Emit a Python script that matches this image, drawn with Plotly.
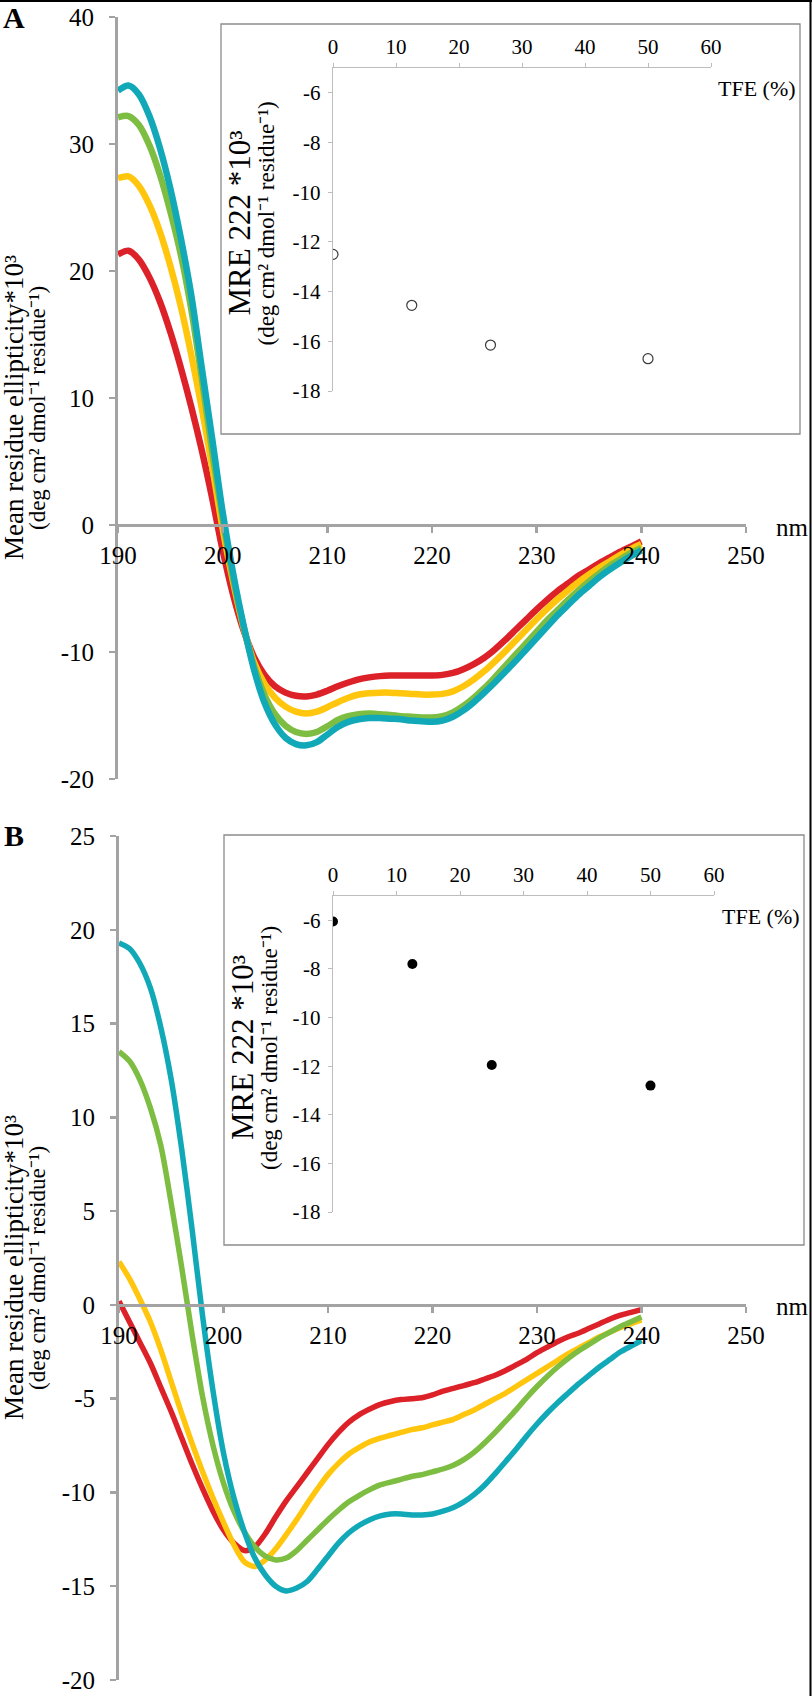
import plotly.graph_objects as go

W, H = 812, 1696

# ---------------- data ----------------
wavelength = list(range(190, 241))

a_red = [21.3, 21.6, 20.9, 19.5, 17.6, 15.2, 12.4, 9.3, 5.9, 2.1,
         -2.0, -5.5, -8.3, -10.4, -11.8, -12.7, -13.2, -13.45, -13.5, -13.35,
         -13.05, -12.7, -12.4, -12.15, -12.0, -11.9, -11.85, -11.85, -11.85, -11.85,
         -11.85, -11.8, -11.65, -11.35, -10.95, -10.45, -9.8, -9.05, -8.25, -7.45,
         -6.65, -5.9, -5.2, -4.6, -4.0, -3.5, -3.0, -2.55, -2.1, -1.7, -1.3]
a_yellow = [27.3, 27.45, 26.7, 25.2, 23.1, 20.4, 17.2, 13.4, 9.2, 4.6,
            -0.3, -4.5, -8.1, -10.8, -12.5, -13.6, -14.3, -14.7, -14.85, -14.7,
            -14.35, -13.95, -13.6, -13.35, -13.25, -13.2, -13.2, -13.25, -13.3, -13.35,
            -13.35, -13.3, -13.1, -12.7, -12.15, -11.5, -10.75, -9.95, -9.1, -8.25,
            -7.4, -6.6, -5.85, -5.15, -4.5, -3.9, -3.35, -2.85, -2.35, -1.9, -1.5]
a_green = [32.1, 32.2, 31.5, 29.9, 27.6, 24.7, 21.3, 17.0, 11.6, 5.8,
           0.5, -4.2, -8.0, -11.1, -13.4, -14.9, -15.8, -16.3, -16.45, -16.3,
           -15.85, -15.35, -15.05, -14.9, -14.85, -14.9, -14.95, -15.05, -15.1, -15.15,
           -15.15, -15.05, -14.75, -14.25, -13.6, -12.85, -12.0, -11.1, -10.2, -9.3,
           -8.4, -7.5, -6.7, -5.9, -5.15, -4.45, -3.8, -3.2, -2.7, -2.2, -1.8]
a_cyan = [34.2, 34.6, 33.9, 32.2, 29.7, 26.5, 22.6, 18.1, 12.4, 6.8,
          1.0, -3.8, -7.9, -11.4, -14.0, -15.7, -16.75, -17.25, -17.35, -17.1,
          -16.5, -15.9, -15.5, -15.3, -15.2, -15.2, -15.25, -15.3, -15.4, -15.45,
          -15.5, -15.4, -15.1, -14.6, -13.95, -13.2, -12.4, -11.55, -10.7, -9.8,
          -8.9, -8.0, -7.1, -6.3, -5.5, -4.8, -4.1, -3.5, -2.95, -2.45, -2.0]

b_red = [0.2, -0.9, -2.0, -3.1, -4.4, -5.7, -7.1, -8.5, -9.8, -11.0,
         -12.0, -12.7, -13.1, -12.9, -12.2, -11.3, -10.45, -9.7, -8.95, -8.2,
         -7.45, -6.8, -6.25, -5.85, -5.55, -5.3, -5.15, -5.05, -5.0, -4.95,
         -4.8, -4.6, -4.45, -4.3, -4.15, -3.95, -3.75, -3.5, -3.2, -2.9,
         -2.55, -2.25, -1.95, -1.7, -1.5, -1.25, -1.0, -0.75, -0.55, -0.4, -0.25]
b_yellow = [2.3, 1.4, 0.3, -0.9, -2.4, -4.1, -5.8, -7.4, -8.9, -10.3,
            -11.6, -12.8, -13.7, -13.95, -13.6, -13.0, -12.25, -11.45, -10.6, -9.8,
            -9.05, -8.45, -7.95, -7.6, -7.3, -7.1, -6.95, -6.8, -6.65, -6.55,
            -6.4, -6.25, -6.1, -5.85, -5.6, -5.3, -5.0, -4.7, -4.35, -4.0,
            -3.65, -3.3, -2.95, -2.6, -2.3, -2.0, -1.7, -1.45, -1.2, -1.0, -0.8]
b_green = [13.5, 13.0, 12.0, 10.5, 8.5, 5.4, 2.0, -1.6, -4.9, -7.5,
           -9.5, -11.0, -12.1, -12.9, -13.4, -13.6, -13.5, -13.1, -12.55, -12.0,
           -11.45, -10.95, -10.5, -10.15, -9.85, -9.6, -9.45, -9.3, -9.15, -9.05,
           -8.9, -8.75, -8.55, -8.25, -7.85, -7.35, -6.8, -6.2, -5.6, -4.95,
           -4.35, -3.8, -3.3, -2.85, -2.45, -2.1, -1.75, -1.45, -1.15, -0.9, -0.65]
b_cyan = [19.3, 19.0, 18.2, 16.9, 14.8, 12.0, 8.3, 4.0, -0.6, -4.6,
          -7.9, -10.3, -12.1, -13.5, -14.4, -15.0, -15.25, -15.1, -14.75, -14.1,
          -13.4, -12.7, -12.15, -11.75, -11.45, -11.25, -11.15, -11.15, -11.2, -11.2,
          -11.15, -11.0, -10.8, -10.5, -10.1, -9.6, -9.0, -8.35, -7.7, -7.0,
          -6.35, -5.75, -5.2, -4.7, -4.2, -3.75, -3.3, -2.9, -2.5, -2.2, -1.9]

tfe = [0, 12.5, 25, 50]
mre222_a = [-12.5, -14.55, -16.15, -16.7]
mre222_b = [-6.05, -7.8, -11.95, -12.8]

main_x_ticks = [190, 200, 210, 220, 230, 240, 250]
a_y_ticks = [-20, -10, 0, 10, 20, 30, 40]
b_y_ticks = [-20, -15, -10, -5, 0, 5, 10, 15, 20, 25]
inset_x_ticks = [0, 10, 20, 30, 40, 50, 60]
inset_y_ticks = [-18, -16, -14, -12, -10, -8, -6]

# ---------------- styling ----------------
SERIF = "Liberation Serif, Times New Roman, serif"
COLORS = {"red": "#DD2128", "yellow": "#FFC60D", "green": "#7DBD41", "cyan": "#11A9B8"}
AXIS_GRAY = "#A3A3A3"
INSET_GRAY = "#BDBDBD"


def px_x(p):
    return p / W


def px_y(p):
    return 1 - p / H


def labels(vals):
    return [str(v) for v in vals]


fig = go.Figure()

panels = [
    dict(x="x", y="y", xi="x2", yi="y2",
         series=[("red", a_red), ("yellow", a_yellow), ("green", a_green), ("cyan", a_cyan)],
         lw=6.5, mre=mre222_a, open_marker=True),
    dict(x="x3", y="y3", xi="x4", yi="y4",
         series=[("red", b_red), ("yellow", b_yellow), ("green", b_green), ("cyan", b_cyan)],
         lw=5.5, mre=mre222_b, open_marker=False),
]

for p in panels:
    for cname, vals in p["series"]:
        fig.add_trace(go.Scatter(x=wavelength, y=vals, mode="lines",
                                 line=dict(color=COLORS[cname], width=p["lw"], shape="spline", smoothing=0.8),
                                 xaxis=p["x"], yaxis=p["y"], showlegend=False, hoverinfo="skip"))
    if p["open_marker"]:
        marker = dict(symbol="circle-open", size=10, color="#3a3a3a", line=dict(width=1.2, color="#3a3a3a"))
    else:
        marker = dict(symbol="circle", size=10, color="black")
    fig.add_trace(go.Scatter(x=tfe, y=p["mre"], mode="markers", marker=marker,
                             xaxis=p["xi"], yaxis=p["yi"], showlegend=False, hoverinfo="skip"))

# geometry (pixels)
A = dict(x0=118, x1=746, ytop=17, ybot=779, yr=[-20, 40], yt=a_y_ticks,
         box=(221, 24, 800, 434), ix0=333, ix1=711, iyt=68, iyb=391)
B = dict(x0=119, x1=746, ytop=836, ybot=1680, yr=[-20, 25], yt=b_y_ticks,
         box=(224, 835, 804, 1245), ix0=333, ix1=714, iyt=896, iyb=1212)

main_tickfont = dict(family=SERIF, size=25, color="black")
inset_tickfont = dict(family=SERIF, size=21, color="black")

layout_axes = {}
for g, names in [(A, ("xaxis", "yaxis", "xaxis2", "yaxis2", "x2", "y2", "x")),
                 (B, ("xaxis3", "yaxis3", "xaxis4", "yaxis4", "x4", "y4", "x3"))]:
    xa, ya, xia, yia, xiref, yiref, xref = names
    yd = [px_y(g["ybot"]), px_y(g["ytop"])]
    r0, r1 = g["yr"]
    zero_pos = yd[0] + (0 - r0) / (r1 - r0) * (yd[1] - yd[0])
    common = dict(automargin=False, ticklabeloverflow="allow", showgrid=False, zeroline=False)
    layout_axes[xa] = dict(domain=[px_x(g["x0"]), px_x(g["x1"])], range=[190, 250],
                           anchor="free", position=zero_pos, tickvals=main_x_ticks,
                           ticktext=labels(main_x_ticks),
                           showline=True, linecolor=AXIS_GRAY, linewidth=3,
                           ticks="outside", ticklen=6, tickwidth=2.5, tickcolor=AXIS_GRAY,
                           ticklabelstandoff=1, tickfont=main_tickfont, **common)
    layout_axes[ya] = dict(domain=yd, range=g["yr"], anchor=xref, tickvals=g["yt"],
                           ticktext=labels(g["yt"]),
                           showline=True, linecolor=AXIS_GRAY, linewidth=3,
                           ticks="outside", ticklen=6, tickwidth=2.5, tickcolor=AXIS_GRAY,
                           ticklabelstandoff=10, tickfont=main_tickfont, **common)
    layout_axes[xia] = dict(domain=[px_x(g["ix0"]), px_x(g["ix1"])], range=[0, 60], side="top",
                            anchor=yiref, tickvals=inset_x_ticks,
                            ticktext=labels(inset_x_ticks),
                            showline=True, linecolor=INSET_GRAY, linewidth=1.2,
                            ticks="outside", ticklen=4, tickwidth=1, tickcolor=INSET_GRAY,
                            tickfont=inset_tickfont, **common)
    layout_axes[yia] = dict(domain=[px_y(g["iyb"]), px_y(g["iyt"])], range=[-18, -5],
                            anchor=xiref, tickvals=inset_y_ticks,
                            ticktext=labels(inset_y_ticks),
                            showline=True, linecolor=INSET_GRAY, linewidth=1.2,
                            ticks="outside", ticklen=4, tickwidth=1, tickcolor=INSET_GRAY,
                            ticklabelstandoff=3, tickfont=inset_tickfont, **common)

shapes = []
annotations = []
for g, letter, lx, ly in [(A, "A", 1, 18), (B, "B", 2, 835)]:
    bx0, by0, bx1, by1 = g["box"]
    shapes.append(dict(type="rect", xref="paper", yref="paper",
                       x0=px_x(bx0), x1=px_x(bx1), y0=px_y(by1), y1=px_y(by0),
                       line=dict(color="#8C8C8C", width=1.3), fillcolor="rgba(0,0,0,0)"))
    annotations.append(dict(text="<b>%s</b>" % letter, x=px_x(lx), y=px_y(ly), xref="paper", yref="paper",
                            xanchor="left", yanchor="middle", showarrow=False,
                            font=dict(family=SERIF, size=30, color="black")))
    ymid = (g["ytop"] + g["ybot"]) / 2 + 10
    annotations.append(dict(text="Mean residue ellipticity*10³", x=px_x(14), y=px_y(ymid),
                            xref="paper", yref="paper", textangle=-90, showarrow=False,
                            xanchor="center", yanchor="middle",
                            font=dict(family=SERIF, size=27, color="black")))
    annotations.append(dict(text="(deg cm² dmol⁻¹ residue⁻¹)", x=px_x(37), y=px_y(ymid),
                            xref="paper", yref="paper", textangle=-90, showarrow=False,
                            xanchor="center", yanchor="middle",
                            font=dict(family=SERIF, size=23, color="black")))
    # inset titles
    iymid = (g["iyt"] + g["iyb"]) / 2 - 6
    annotations.append(dict(text="MRE 222 *10³", x=px_x(bx0 + 18), y=px_y(iymid),
                            xref="paper", yref="paper", textangle=-90, showarrow=False,
                            xanchor="center", yanchor="middle",
                            font=dict(family=SERIF, size=31, color="black")))
    annotations.append(dict(text="(deg cm² dmol⁻¹ residue⁻¹)", x=px_x(bx0 + 45), y=px_y(iymid),
                            xref="paper", yref="paper", textangle=-90, showarrow=False,
                            xanchor="center", yanchor="middle",
                            font=dict(family=SERIF, size=23, color="black")))
    annotations.append(dict(text="TFE (%)", x=px_x(bx1 - 2), y=px_y(g["iyt"] + 20),
                            xref="paper", yref="paper", showarrow=False,
                            xanchor="right", yanchor="middle",
                            font=dict(family=SERIF, size=22, color="black")))
    zero_px = g["ytop"] + (g["yr"][1] - 0) / (g["yr"][1] - g["yr"][0]) * (g["ybot"] - g["ytop"])
    annotations.append(dict(text="nm", x=px_x(774), y=px_y(zero_px + 2),
                            xref="paper", yref="paper", showarrow=False,
                            xanchor="left", yanchor="middle",
                            font=dict(family=SERIF, size=25, color="black")))

# frame lines on top and right edges
shapes.append(dict(type="line", xref="paper", yref="paper", x0=0, x1=1, y0=px_y(1), y1=px_y(1),
                   line=dict(color="black", width=2)))
shapes.append(dict(type="line", xref="paper", yref="paper", x0=px_x(810.5), x1=px_x(810.5), y0=0, y1=1,
                   line=dict(color="black", width=2)))

fig.update_layout(width=W, height=H, margin=dict(l=0, r=0, t=0, b=0, pad=0, autoexpand=False),
                  paper_bgcolor="white", plot_bgcolor="rgba(0,0,0,0)",
                  shapes=shapes, annotations=annotations, showlegend=False, **layout_axes)

fig.write_html("out.html", config={"displayModeBar": False, "staticPlot": True},
               post_script=("document.documentElement.style.overflow='hidden';"
                            "document.body.style.overflow='hidden';"
                            "document.body.style.margin='0';"))
